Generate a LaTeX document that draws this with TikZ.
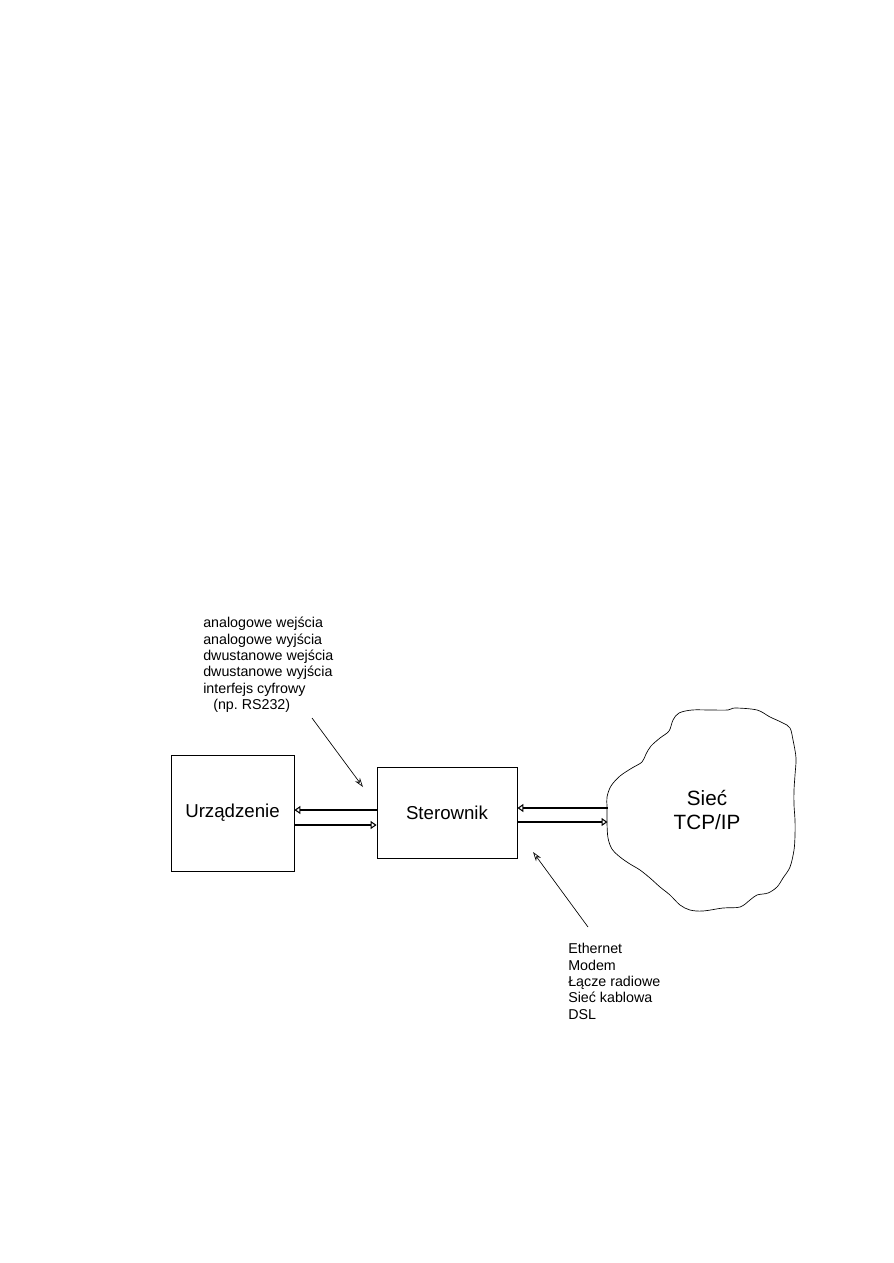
\documentclass[tikz,border=0pt]{standalone}
\usepackage{fontspec}
\setmainfont{Liberation Sans}
\usetikzlibrary{arrows.meta,positioning}

\begin{document}
\begin{tikzpicture}[
		x=0.75pt, y=-0.75pt,
		box/.style={draw, line width=0.6pt, inner sep=0pt, font=\fontsize{14}{17}\selectfont},
		link/.style={line width=1.3pt, -{Triangle[open, length=4.5pt, width=6pt, line width=0.8pt]}},
		pointer/.style={line width=0.5pt, -{Stealth[open, length=7pt, width=4.5pt]}},
		note/.style={align=left, inner sep=0pt, anchor=north west, font=\fontsize{10.7}{12.3}\selectfont}
	]
	\useasboundingbox (0,0) rectangle (893,1263);

	% Blocks
	\node[box, minimum width=92.25pt, minimum height=87pt] (urz) at (232.5,813) {Urządzenie};
	\node[box, minimum width=105pt, minimum height=68.25pt] (ster) at (447,812.5) {Sterownik};

	% Network cloud
	\draw[line width=0.5pt] plot[smooth cycle, tension=0.55] coordinates {
		(607,807) (607,797) (611,786) (620,776) (632,768) (642,762) (646,754) (651,746)
		(660,738) (669,731) (673,720) (679,713) (692,710) (710,710) (728,710) (735,708)
		(757,710) (770,717) (783,723) (790,728) (793,740) (796,758) (795,775) (794,790)
		(794,805) (795,820) (795,835) (794,850) (790,867) (783,878) (777,887) (768,893)
		(757,895) (750,900) (740,907) (723,908) (703,911) (690,910) (680,905) (670,895)
		(660,887) (650,878) (640,870) (630,864) (620,857) (612,849) (608,838) (607,823)};
	\coordinate (netw) at (607.5,815);
	\node[align=center, inner sep=0pt, font=\fontsize{15.5}{18}\selectfont] (siec) at (707,810) {Sieć\\TCP/IP};

	% Links between blocks
	\draw[link] (ster.west |- 0,810) -- (urz.east |- 0,810);
	\draw[link] (urz.east |- 0,825) -- (ster.west |- 0,825);
	\draw[link] (netw |- 0,808) -- (ster.east |- 0,808);
	\draw[link] (ster.east |- 0,822) -- (netw |- 0,822);

	% Notes
	\node[note] (wej) at (203,617) {analogowe wejścia\\analogowe wyjścia\\dwustanowe wejścia\\dwustanowe wyjścia\\interfejs cyfrowy\\\hspace*{7.5pt}(np.\ RS232)};
	\node[note] (lacza) at (568,943) {Ethernet\\Modem\\Łącze radiowe\\Sieć kablowa\\DSL};

	% Pointers
	\coordinate (p1) at (312,718);
	\coordinate (p1tip) at (363,787);
	\draw[pointer] (p1) -- (p1tip);
	\coordinate (p2) at (588,927);
	\coordinate (p2tip) at (533,852);
	\draw[pointer] (p2) -- (p2tip);
\end{tikzpicture}
\end{document}
